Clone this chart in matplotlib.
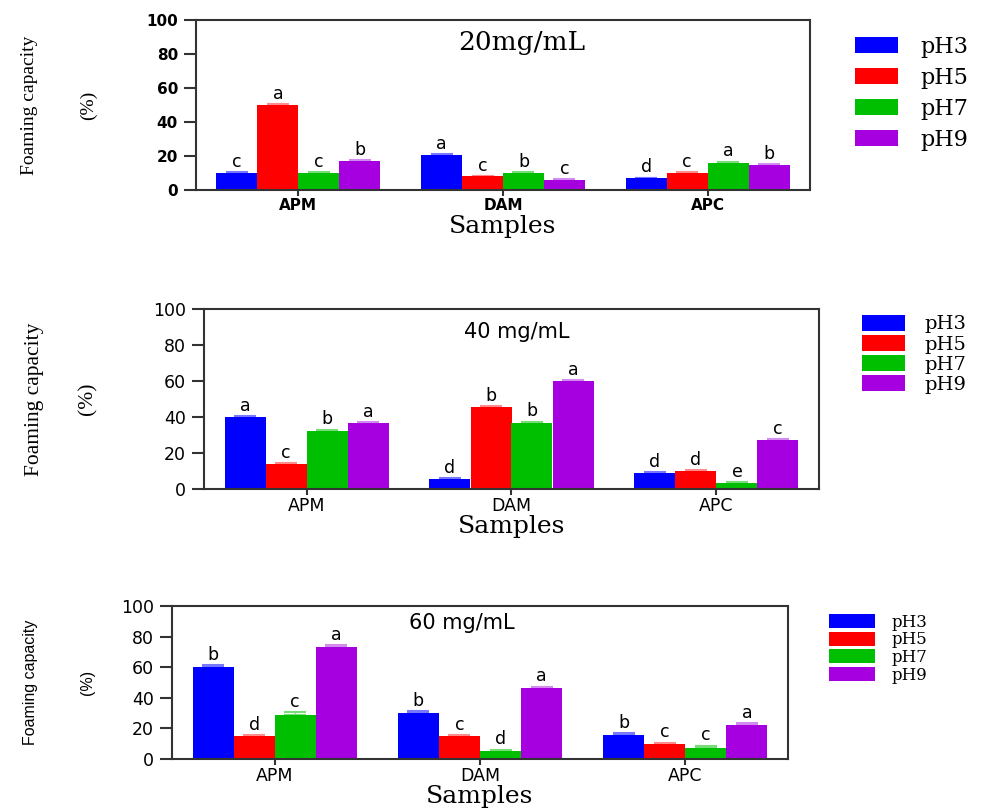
import numpy as np
import matplotlib
matplotlib.use('Agg')
import matplotlib.pyplot as plt

# samples on the x axis and the pH series
samples = ['APM', 'DAM', 'APC']
ph_levels = ['pH3', 'pH5', 'pH7', 'pH9']
bar_colors = ['#0000ff', '#ff0000', '#00bf00', '#a600e0']
err_colors = ['#7878ff', '#ff8c8c', '#78dc78', '#d28cf0']

# foaming capacity (%) -> rows: pH3, pH5, pH7, pH9 / cols: APM, DAM, APC
fc_20 = [[10, 20.5, 7], [50, 8, 10], [10, 10, 16], [17, 6, 15]]
fc_40 = [[40, 5.5, 9], [14, 45.5, 10], [32.5, 36.5, 3.5], [36.5, 60, 27]]
fc_60 = [[60, 30, 16], [15, 15, 10], [29, 5, 7], [73.5, 46.5, 22.5]]

err_20 = [[0.3, 0.6, 0.3], [0.6, 0.3, 0.3], [0.3, 0.4, 0.6], [0.6, 0.3, 0.3]]
err_40 = [[0.4, 0.6, 0.3], [0.3, 0.4, 0.4], [0.4, 0.8, 0.3], [0.6, 0.4, 0.6]]
err_60 = [[1.5, 1.2, 0.8], [0.6, 0.6, 0.6], [1.5, 1.0, 1.6], [1.0, 0.8, 0.8]]

# significance letters, same layout as the values
let_20 = [['c', 'a', 'd'], ['a', 'c', 'c'], ['c', 'b', 'a'], ['b', 'c', 'b']]
let_40 = [['a', 'd', 'd'], ['c', 'b', 'd'], ['b', 'b', 'e'], ['a', 'a', 'c']]
let_60 = [['b', 'b', 'b'], ['d', 'c', 'c'], ['c', 'd', 'c'], ['a', 'a', 'a']]

W, H = 1003, 808
fig = plt.figure(figsize=(W / 100, H / 100), dpi=100)


def px_rect(left, top, right, bottom):
    return [left / W, 1 - bottom / H, (right - left) / W, (bottom - top) / H]


panels = [
    dict(rect=(196, 20, 810, 190), vals=fc_20, errs=err_20, lets=let_20,
         title='20mg/mL', title_xy=(0.531, 0.865), title_family='DejaVu Serif', title_size=19,
         ylab_family='Liberation Serif', ylab_size=14, ylab_x=(30, 88),
         tick_weight='bold', tick_size=11,
         leg_xy=(855, 36), leg_size=16, leg_hl=1.94, leg_hh=0.72, leg_sp=0.4),
    dict(rect=(204, 309, 819, 489), vals=fc_40, errs=err_40, lets=let_40,
         title='40 mg/mL', title_xy=(0.509, 0.872), title_family='DejaVu Sans', title_size=15,
         ylab_family='Liberation Serif', ylab_size=15.5, ylab_x=(35, 88),
         tick_weight='normal', tick_size=12.5,
         leg_xy=(862, 315), leg_size=14, leg_hl=2.2, leg_hh=0.85, leg_sp=0.08),
    dict(rect=(172, 606, 788, 759), vals=fc_60, errs=err_60, lets=let_60,
         title='60 mg/mL', title_xy=(0.471, 0.889), title_family='DejaVu Sans', title_size=15,
         ylab_family='Liberation Sans', ylab_size=11.5, ylab_x=(31, 88),
         tick_weight='normal', tick_size=12.5,
         leg_xy=(829, 614), leg_size=12, leg_hl=2.75, leg_hh=0.9, leg_sp=0.03),
]

for cfg in panels:
    ax = fig.add_axes(px_rect(*cfg['rect']))
    x = np.arange(len(samples))
    width = 0.2
    for i, ph in enumerate(ph_levels):
        pos = x + (i - 1.5) * width
        ax.bar(pos, cfg['vals'][i], width, color=bar_colors[i], label=ph, zorder=2)
        ax.errorbar(pos, cfg['vals'][i], yerr=[np.zeros(len(samples)), cfg['errs'][i]],
                    fmt='none', ecolor=err_colors[i], elinewidth=1, capsize=8,
                    capthick=1.5, zorder=1)
        for xp, v, e, t in zip(pos, cfg['vals'][i], cfg['errs'][i], cfg['lets'][i]):
            ax.annotate(t, (xp, v + e), xytext=(0, 1), textcoords='offset points',
                        ha='center', va='bottom', fontsize=12.5, family='DejaVu Sans')

    ax.set_xlim(-0.5, 2.5)
    ax.set_ylim(0, 100)
    ax.set_yticks(range(0, 101, 20))
    ax.set_xticks(x)
    ax.set_xticklabels(samples, family='DejaVu Sans', fontsize=cfg['tick_size'],
                       fontweight=cfg['tick_weight'])
    for lab in ax.get_yticklabels():
        lab.set_family('DejaVu Sans')
        lab.set_fontsize(cfg['tick_size'])
        lab.set_fontweight(cfg['tick_weight'])
    ax.tick_params(axis='y', length=9, width=1.5, pad=4, color='#333333')
    ax.tick_params(axis='x', length=4.5, width=1.5, pad=1.5, color='#333333')
    for sp in ax.spines.values():
        sp.set_color('#333333')
        sp.set_linewidth(1.5)

    ax.text(cfg['title_xy'][0], cfg['title_xy'][1], cfg['title'], transform=ax.transAxes,
            ha='center', va='center', family=cfg['title_family'], fontsize=cfg['title_size'])

    ax.annotate('Samples', xy=(0.5, 0), xycoords='axes fraction', xytext=(0, -37 * 0.72),
                textcoords='offset points', ha='center', va='center',
                family='DejaVu Serif', fontsize=18)

    left, top, right, bottom = cfg['rect']
    yc = 1 - (top + bottom) / 2 / H
    fig.text(cfg['ylab_x'][0] / W, yc, 'Foaming capacity', rotation=90, ha='center',
             va='center', family=cfg['ylab_family'], fontsize=cfg['ylab_size'])
    fig.text(cfg['ylab_x'][1] / W, yc, '(%)', rotation=90, ha='center', va='center',
             family=cfg['ylab_family'], fontsize=cfg['ylab_size'])

    lx, ly = cfg['leg_xy']
    ax.legend(loc='upper left', bbox_to_anchor=(lx / W, 1 - ly / H),
              bbox_transform=fig.transFigure, frameon=False,
              prop={'family': 'DejaVu Serif', 'size': cfg['leg_size']},
              handlelength=cfg['leg_hl'], handleheight=cfg['leg_hh'],
              handletextpad=1.0, labelspacing=cfg['leg_sp'],
              borderpad=0, borderaxespad=0)

fig.savefig('out.png', dpi=100)
